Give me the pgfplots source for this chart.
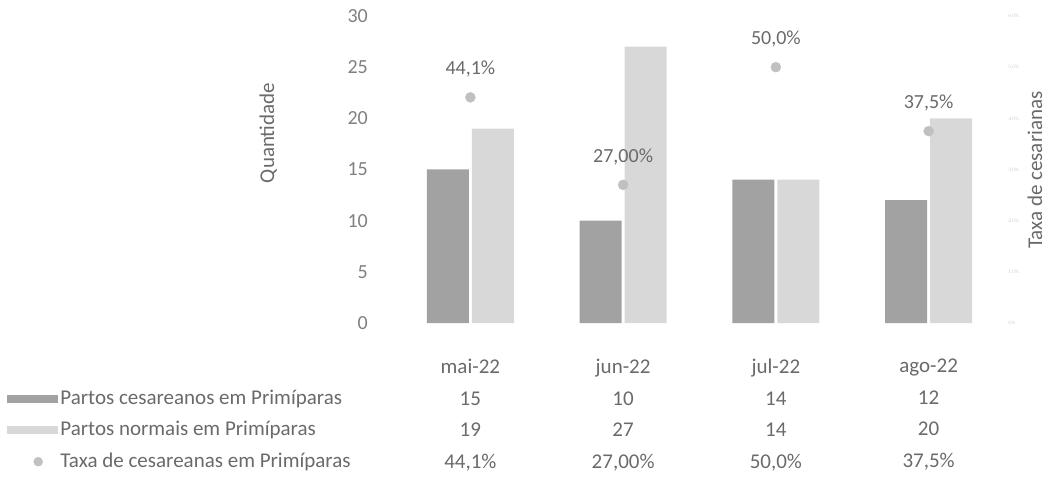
\documentclass[border=0pt]{standalone}
\usepackage{pgfplots}
\pgfplotsset{compat=1.18}
\usepackage{fontspec}
\setmainfont{Carlito}
\definecolor{txt}{HTML}{6A6A6A}
\definecolor{cesa}{HTML}{A2A2A2}
\definecolor{norm}{HTML}{D8D8D8}
\definecolor{taxa}{HTML}{C0C0C0}
\begin{document}
\begin{tikzpicture}[x=1pt,y=1pt]
\useasboundingbox (0pt,0pt) rectangle (1047pt,482pt);
\begin{axis}[
  at={(394pt,159pt)}, anchor=south west,
  scale only axis, width=611pt, height=307pt,
  xmin=-0.5, xmax=3.5, ymin=0, ymax=30,
  ybar, bar width=42pt,
  axis line style={draw=none}, tick style={draw=none}, major tick length=0pt,
  xtick={0,1,2,3},
  xticklabels={{mai-22\\15\\19\\44,1\%},{jun-22\\10\\27\\27,00\%},{jul-22\\14\\14\\50,0\%},{ago-22\\12\\20\\37,5\%}},
  xticklabel style={align=center, font=\fontsize{21}{31.5}\selectfont, text=txt, anchor=north, inner sep=0pt, yshift=-36pt},
  ytick={0,5,...,30},
  /pgf/number format/assume math mode=true,
  yticklabel style={font=\fontsize{20}{24}\selectfont, text=txt!85, anchor=east, inner sep=0pt, xshift=-26pt},
  ylabel={Quantidade},
  ylabel style={at={(axis description cs:-0.206,0.619)}, anchor=center, rotate=0, font=\fontsize{21}{24}\selectfont, text=txt},
  clip=false,
  legend style={at={(axis description cs:-0.6334,-0.215)}, anchor=north west, draw=none, fill=none,
    inner sep=0pt, row sep=12.5pt, column sep=2pt,
    font=\fontsize{21}{24}\selectfont, text=txt,
    nodes={inner sep=0pt, text height=15pt, text depth=4pt}},
  legend cell align=left,
]
\addplot[fill=cesa, draw=none, bar shift=-22.5pt,
  legend image code/.code={\fill[cesa] (0pt,-4pt) rectangle (51pt,4pt);}]
  coordinates {(0,15) (1,10) (2,14) (3,12)};
\addplot[fill=norm, draw=none, bar shift=22.5pt,
  legend image code/.code={\fill[norm] (0pt,-4pt) rectangle (51pt,4pt);}]
  coordinates {(0,19) (1,27) (2,14) (3,20)};
\addlegendimage{legend image code/.code={\fill[taxa] (31pt,0pt) circle (4.5pt); \path (51pt,0pt);}}
\legend{Partos cesareanos em Primíparas, Partos normais em Primíparas, Taxa de cesareanas em Primíparas}
\end{axis}
\begin{axis}[
  at={(394pt,159pt)}, anchor=south west,
  scale only axis, width=611pt, height=307pt,
  xmin=-0.5, xmax=3.5, ymin=0, ymax=60,
  axis x line=none, axis y line*=right,
  axis line style={draw=none}, tick style={draw=none}, major tick length=0pt,
  ytick={0,10,...,60},
  yticklabel={\pgfmathprintnumber{\tick}\%},
  yticklabel style={font=\fontsize{5}{6}\selectfont, text=gray!40, anchor=west, inner sep=0pt, xshift=3pt},
  ylabel={Taxa de cesarianas},
  ylabel style={at={(axis description cs:1.049,0.498)}, anchor=center, rotate=0, font=\fontsize{21}{24}\selectfont, text=txt},
  clip=false,
]
\addplot[only marks, mark=*, mark size=5pt, color=taxa,
  point meta=explicit symbolic,
  nodes near coords,
  nodes near coords style={anchor=center, yshift=28pt, font=\fontsize{20}{24}\selectfont, text=txt}]
  table[meta=lab] {
x y lab
0 44.1 44,1\%
1 27 27,00\%
2 50 50,0\%
3 37.5 37,5\%
};
\end{axis}
\end{tikzpicture}
\end{document}
